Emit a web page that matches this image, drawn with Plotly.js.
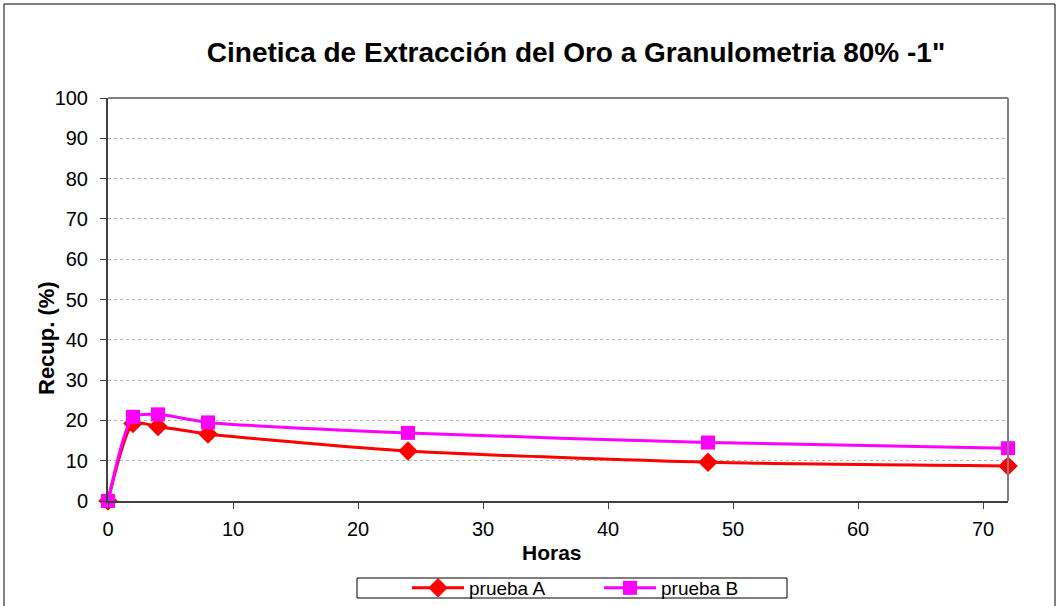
<!DOCTYPE html>
<html>
<head>
<meta charset="utf-8">
<script src="https://cdn.plot.ly/plotly-3.0.1.min.js"></script>
<style>
  html, body { margin: 0; padding: 0; background: #fff; }
  #chart { width: 1060px; height: 606px; }
</style>
</head>
<body>
<div id="chart"></div>
<script>
// Gold extraction kinetics, particle size 80% -1"
const horas = [0, 2, 4, 8, 24, 48, 72];
const pruebaA = [0, 19.2, 18.5, 16.6, 12.4, 9.6, 8.7];
const pruebaB = [0, 20.9, 21.5, 19.5, 16.9, 14.5, 13.1];
const seriesNames = ["prueba A", "prueba B"];
const chartTitle = "Cinetica de Extracción del Oro a Granulometria 80% -1\"";
const xTitle = "Horas";
const yTitle = "Recup. (%)";

const W = 1060, H = 606;
const L = 108, R = 1008, T = 98, B = 501;
// convert page pixels to paper coordinates of the plot area
const px = x => (x - L) / (R - L);
const py = y => (B - y) / (B - T);

const font = "Arial, 'Liberation Sans', sans-serif";

const traces = [
  {
    x: horas, y: pruebaA, name: seriesNames[0], type: "scatter", mode: "lines+markers",
    cliponaxis: false,
    line: { color: "#ff0000", width: 3, shape: "spline", smoothing: 0.6 },
    marker: { symbol: "diamond", size: 15, color: "#ff0000" }
  },
  {
    x: horas, y: pruebaB, name: seriesNames[1], type: "scatter", mode: "lines+markers",
    cliponaxis: false,
    line: { color: "#ff00ff", width: 3, shape: "spline", smoothing: 0.6 },
    marker: { symbol: "square", size: 14, color: "#ff00ff" }
  }
];

const layout = {
  width: W, height: H,
  margin: { l: L, r: W - R, t: T, b: H - B, autoexpand: false },
  paper_bgcolor: "#ffffff",
  plot_bgcolor: "#ffffff",
  font: { family: font, color: "#000", size: 20 },
  showlegend: true,
  title: {
    text: "<b>" + chartTitle + "</b>",
    font: { family: font, size: 28, color: "#000" },
    x: 576 / W, xanchor: "center", y: 1 - 52 / H, yanchor: "middle"
  },
  xaxis: {
    range: [0, 72], dtick: 10, tick0: 0,
    showgrid: false, zeroline: false,
    showline: true, linecolor: "#404040", linewidth: 2,
    ticks: "outside", ticklen: 6, tickcolor: "#404040", tickwidth: 1,
    ticklabelstandoff: 3,
    tickfont: { family: font, size: 20 }
  },
  yaxis: {
    range: [0, 100], dtick: 10, tick0: 0,
    showgrid: true, gridcolor: "#b4b4b4", griddash: "dot", gridwidth: 1,
    zeroline: false,
    showline: true, linecolor: "#404040", linewidth: 2,
    ticks: "outside", ticklen: 6, tickcolor: "#404040", tickwidth: 1,
    ticklabelstandoff: 8,
    tickfont: { family: font, size: 20 }
  },
  legend: {
    orientation: "h",
    x: px(407), xanchor: "left",
    y: py(588), yanchor: "middle",
    borderwidth: 0,
    bgcolor: "rgba(0,0,0,0)",
    font: { family: font, size: 19 },
    entrywidth: 125, entrywidthmode: "pixels",
    itemwidth: 52, tracegroupgap: 0
  },
  annotations: [
    { text: "<b>" + xTitle + "</b>", xref: "paper", yref: "paper", x: px(552), y: py(552),
      xanchor: "center", yanchor: "middle", showarrow: false, font: { family: font, size: 21 } },
    { text: "<b>" + yTitle + "</b>", xref: "paper", yref: "paper", x: px(46), y: py(338),
      xanchor: "center", yanchor: "middle", textangle: -90, showarrow: false, font: { family: font, size: 22 } }
  ],
  shapes: [
    // grey frame on the top and right of the plot area
    { type: "line", xref: "paper", yref: "paper", x0: 0, x1: 1, y0: 1, y1: 1, line: { color: "#808080", width: 2 } },
    { type: "line", xref: "paper", yref: "paper", x0: 1, x1: 1, y0: 0, y1: 1, line: { color: "#808080", width: 2 } },
    // legend frame
    { type: "rect", xref: "paper", yref: "paper", x0: px(357), x1: px(787), y0: py(578), y1: py(598),
      line: { color: "#000", width: 1 }, fillcolor: "rgba(0,0,0,0)", layer: "below" },
    // outer chart border
    { type: "rect", xref: "paper", yref: "paper", x0: px(4), x1: px(1055), y0: py(4), y1: py(620),
      line: { color: "#000", width: 1 }, fillcolor: "rgba(0,0,0,0)", layer: "below" }
  ]
};

Plotly.newPlot("chart", traces, layout, { displayModeBar: false, staticPlot: true });
</script>
</body>
</html>
